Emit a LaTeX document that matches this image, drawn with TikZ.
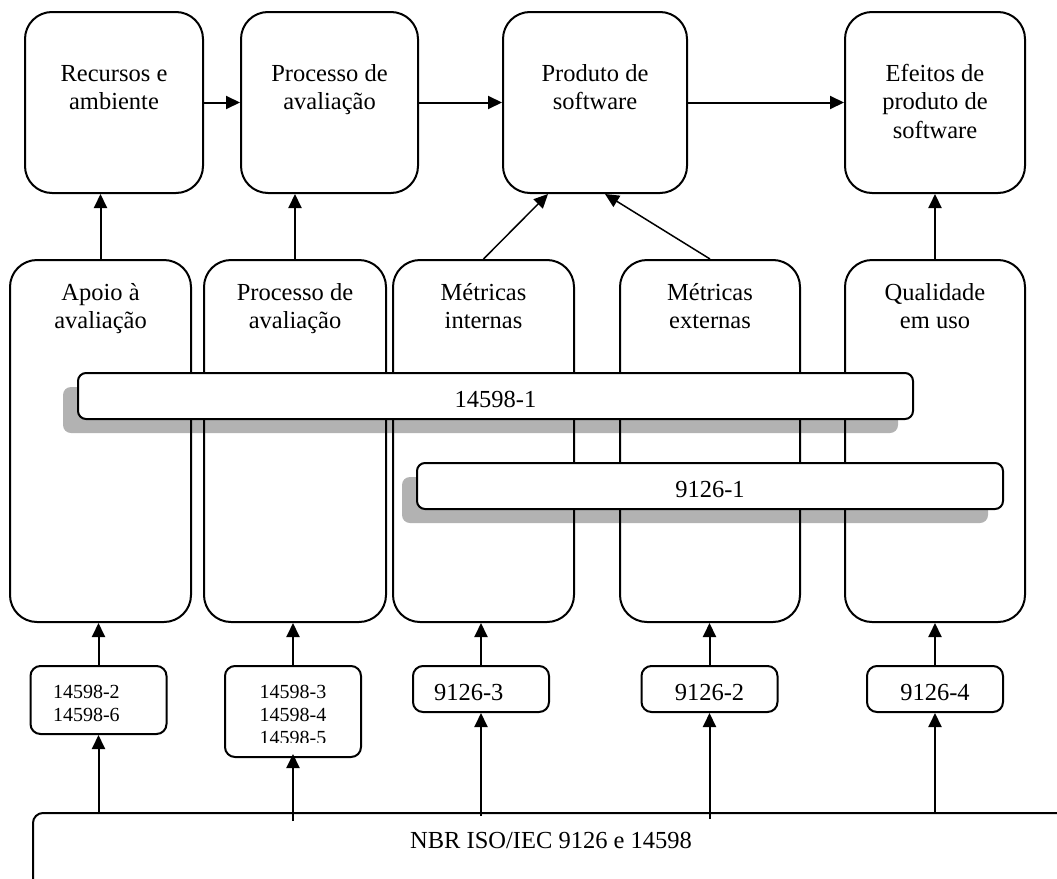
\documentclass[tikz,border=0pt]{standalone}
\usepackage{fontspec}
\setmainfont{Liberation Serif}
\usepackage{tikz}
\usetikzlibrary{arrows.meta,shadows,calc}

\begin{document}
\begin{tikzpicture}[x=1pt, y=-1pt,
			every node/.style = {inner sep=0pt, align=center},
			txt/.style = {font=\fontsize{24.5}{28.5}\selectfont},
			stxt/.style = {font=\fontsize{20}{23}\selectfont},
			bigbox/.style = {draw, line width=2pt, rounded corners=27pt, txt},
			topbox/.style = {bigbox, minimum height=181pt, text height=97.5pt, text depth=83.5pt},
			colbox/.style = {bigbox, minimum height=362pt, text height=68.5pt, text depth=293.5pt},
			barbox/.style = {draw, fill=white, line width=2pt, rounded corners=8pt, txt, minimum height=46pt, text height=34pt, text depth=12pt,
				drop shadow={shadow xshift=-15pt, shadow yshift=-14pt, fill=black, opacity=.3}},
			partbox/.style = {draw, line width=2pt, rounded corners=10pt, minimum width=136pt},
			arr/.style = {-{Triangle[length=14pt, width=13pt]}, line width=2pt}]
			\useasboundingbox (0,0) rectangle (1057,878);
			\clip (0,0) rectangle (1057,878);
			% upper row
			\node (rec) at (114,102.5) [topbox, minimum width=178pt] {Recursos e\\ambiente};
			\node (aval) at (329.5,102.5) [topbox, minimum width=177pt] {Processo de\\avaliação};
			\node (prod) at (595,102.5) [topbox, minimum width=184pt] {Produto de\\software};
			\node (efei) at (935,102.5) [topbox, minimum width=180pt, text height=126pt, text depth=55pt] {Efeitos de\\produto de\\software};
			% columns
			\node (apoio) at (100.5,441) [colbox, minimum width=181pt] {Apoio à\\avaliação};
			\node (proc) at (295,441) [colbox, minimum width=182pt] {Processo de\\avaliação};
			\node (mint) at (483.5,441) [colbox, minimum width=181pt] {Métricas\\internas};
			\node (mext) at (710,441) [colbox, minimum width=180pt] {Métricas\\externas};
			\node (qual) at (935,441) [colbox, minimum width=180pt] {Qualidade\\em uso};
			% bars across the columns
			\node (w1) at (495.5,396) [barbox, minimum width=835pt] {14598-1};
			\node (w2) at (710,486) [barbox, minimum width=586pt] {9126-1};
			% parts
			\node (s1) at (98.5,700) [partbox, minimum height=68pt, stxt, text width=91pt, align=left, text height=32pt, text depth=36pt] {14598-2\\14598-6};
			\node (s2) at (293,711.5) [partbox, minimum height=91pt] {};
			\begin{scope}
				\clip (220,660) rectangle (370,742.5);
				\node (s2txt) at (293,744) [stxt, anchor=base] {14598-3\\14598-4\\14598-5};
			\end{scope}
			\node (s3) at (481,689) [partbox, minimum height=46pt, txt, text width=94pt, align=left, text height=34pt, text depth=12pt] {9126-3};
			\node (s4) at (709.5,689) [partbox, minimum height=46pt, txt, text height=34pt, text depth=12pt] {9126-2};
			\node (s5) at (935,689) [partbox, minimum height=46pt, txt, text height=34pt, text depth=12pt] {9126-4};
			\node (nbr) at (551,858) [partbox, minimum width=1036pt, minimum height=90pt, txt, text height=35pt, text depth=55pt] {NBR ISO/IEC 9126 e 14598};
			% connectors
			\draw (rec) edge[arr] (aval);
			\draw (aval) edge[arr] (prod);
			\draw (prod) edge[arr] (efei);
			\draw (apoio.north) edge[arr] (apoio.north |- rec.south);
			\draw (proc.north) edge[arr] (proc.north |- aval.south);
			\draw (mint.north) edge[arr, line width=1.5pt] ([xshift=-47pt]prod.south);
			\draw (mext.north) edge[arr, line width=1.5pt] ([xshift=10pt]prod.south);
			\draw (qual) edge[arr] (efei);
			\draw (s1.north) edge[arr] (s1.north |- apoio.south);
			\draw (s2.north) edge[arr] (s2.north |- proc.south);
			\draw (s3.north) edge[arr] (s3.north |- mint.south);
			\draw (s4.north) edge[arr] (s4.north |- mext.south);
			\draw (s5) edge[arr] (qual);
			\draw ($(s1.south |- nbr.north)+(0,2)$) edge[arr] (s1.south);
			\draw ($(s2.south |- nbr.north)+(0,9)$) edge[arr] ([yshift=4pt]s2.south);
			\draw ($(s3.south |- nbr.north)+(0,4)$) edge[arr] (s3.south);
			\draw ($(s4.south |- nbr.north)+(0,7)$) edge[arr] (s4.south);
			\draw (nbr.north -| s5.south) edge[arr] (s5.south);
			\end{tikzpicture}
\end{document}
